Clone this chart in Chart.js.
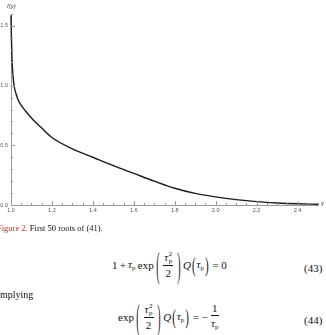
<!DOCTYPE html>
<html>
<head>
<meta charset="utf-8">
<script src="https://cdn.jsdelivr.net/npm/chart.js@4.4.1/dist/chart.umd.min.js"></script>
<style>
  html, body { margin: 0; padding: 0; background: #fff; }
  body { width: 326px; height: 335px; overflow: hidden; position: relative; font-family: 'Liberation Serif', serif; color: #111; }
  #plot { position: absolute; left: 0; top: 0; width: 326px; height: 218px; }
  .lbl { position: absolute; font: italic 6px 'Liberation Sans', sans-serif; color: #444; white-space: nowrap; }
  .txt { position: absolute; white-space: nowrap; font-size: 10px; line-height: 10px; }
  .caption { font-size: 8.5px; }
  .caption b { font-weight: normal; color: #b8322a; }
  .eqn { font-size: 11px; line-height: 11px; }
  .eq { position: absolute; display: flex; align-items: center; font-size: 11px; line-height: 11px; white-space: nowrap; }
  .eq i { font-style: italic; }
  .sym { display: inline-block; position: relative; }
  .sym sub { font-size: 7px; position: relative; top: 2px; vertical-align: baseline; }
  .ss { display: inline-flex; flex-direction: column; font-size: 7px; line-height: 6.5px; margin-left: 0.5px; }
  .frac { display: inline-flex; flex-direction: column; align-items: center; margin: 0 1px; }
  .frac .num { padding: 0 1px 1px; border-bottom: 0.8px solid #111; display: flex; align-items: center; }
  .frac .den { padding-top: 2px; }
  .bp { display: inline-block; transform: scale(0.9, 3.2); margin: 0 2.5px; }
  .mp { display: inline-block; transform: scaleY(1.9); margin: 0 1px; }
</style>
</head>
<body>
<div id="plot"><canvas id="chart_roots" width="326" height="218"></canvas></div>
<span class="lbl" style="left:7px; top:3px;">f(y)</span>
<span class="lbl" style="left:321px; top:200px;">y</span>

<div class="txt caption" style="left:-3px; top:223px;"><b>Figure 2.</b> First 50 roots of (41).</div>

<div class="eq" style="left:112px; top:248px; height:34px;">
  <span>1&thinsp;+&thinsp;</span>
  <span class="sym"><i>τ</i><sub>p</sub></span>
  <span>&thinsp;exp</span>
  <span class="bp">(</span>
  <span class="frac"><span class="num"><i>τ</i><span class="ss"><span>2</span><span>p</span></span></span><span class="den">2</span></span>
  <span class="bp">)</span>
  <i>Q</i><span class="mp">(</span><span class="sym"><i>τ</i><sub>p</sub></span><span class="mp">)</span>
  <span>&nbsp;=&nbsp;0</span>
</div>
<div class="txt eqn" style="left:304px; top:263px;">(43)</div>

<div class="txt" style="left:-3.3px; top:290px;">Implying</div>

<div class="eq" style="left:118px; top:300px; height:34px;">
  <span>exp</span>
  <span class="bp">(</span>
  <span class="frac"><span class="num"><i>τ</i><span class="ss"><span>2</span><span>p</span></span></span><span class="den">2</span></span>
  <span class="bp">)</span>
  <i>Q</i><span class="mp">(</span><span class="sym"><i>τ</i><sub>p</sub></span><span class="mp">)</span>
  <span>&nbsp;=&nbsp;−&thinsp;</span>
  <span class="frac"><span class="num">1</span><span class="den"><span class="sym"><i>τ</i><sub>p</sub></span></span></span>
</div>
<div class="txt eqn" style="left:304px; top:315px;">(44)</div>

<script>
// first 50 roots
var rootX = [1.0, 1.002, 1.005, 1.01, 1.015, 1.025, 1.035, 1.05, 1.07, 1.11, 1.15, 1.2, 1.3, 1.4, 1.5, 1.6, 1.7, 1.8, 1.9, 2.0, 2.1, 2.2, 2.3, 2.4, 2.5]
var fValues = [1.59, 1.40, 1.21, 1.08, 1.0, 0.93, 0.88, 0.835, 0.79, 0.71, 0.645, 0.565, 0.47, 0.40, 0.33, 0.265, 0.20, 0.14, 0.097, 0.068, 0.045, 0.028, 0.017, 0.01, 0.006]
var xTicks = [1.0, 1.2, 1.4, 1.6, 1.8, 2.0, 2.2, 2.4]
var yTicks = [0.0, 0.5, 1.0, 1.5]

var axisGray = '#9a9a9a'

// mathematica-style inward ticks (major + minor)
var innerTicks = {
    id: 'innerTicks',
    afterDraw: function(chart) {
        var c = chart.ctx, xs = chart.scales.x, ys = chart.scales.y
        c.save()
        c.strokeStyle = axisGray
        c.lineWidth = 1
        c.beginPath()
        for (var i = 0; i <= 30; i++) {
            var v = 1.0 + i * 0.05
            var px = Math.round(xs.getPixelForValue(v)) + 0.5
            var len = (i % 4 === 0) ? 4 : 2
            c.moveTo(px, ys.bottom)
            c.lineTo(px, ys.bottom - len)
        }
        for (var j = 0; j <= 16; j++) {
            var py = Math.round(ys.getPixelForValue(j * 0.1)) + 0.5
            var l2 = (j % 5 === 0) ? 4 : 2
            c.moveTo(xs.left, py)
            c.lineTo(xs.left + l2, py)
        }
        c.stroke()
        c.restore()
    }
}

var ctx = document.getElementById('chart_roots')
var chartRoots = new Chart(ctx, {
    type: 'line',
    data: {
        datasets: [{
            data: rootX.map((x, i) => ({x: x, y: fValues[i]})),
            borderColor: '#1b1b1b',
            borderWidth: 1.4,
            pointRadius: 0,
            fill: false,
            cubicInterpolationMode: 'monotone',
            clip: false
        }]
    },
    options: {
        responsive: false,
        devicePixelRatio: 1,
        animation: false,
        layout: { padding: { top: 14, right: 8, left: 0, bottom: 0 } },
        plugins: { legend: { display: false }, tooltip: { enabled: false } },
        scales: {
            x: {
                type: 'linear',
                min: 1.0,
                max: 2.5,
                afterBuildTicks: function(scale) { scale.ticks = xTicks.map(v => ({value: v})) },
                afterFit: function(scale) { scale.height = 13 },
                grid: { display: false, drawTicks: false },
                border: { display: true, color: axisGray, width: 1 },
                ticks: {
                    padding: 2,
                    maxRotation: 0,
                    autoSkip: false,
                    color: '#555',
                    font: { family: 'Liberation Sans', size: 5.5 },
                    callback: function(value) { return value.toFixed(1) }
                }
            },
            y: {
                type: 'linear',
                min: 0,
                max: 1.6,
                afterBuildTicks: function(scale) { scale.ticks = yTicks.map(v => ({value: v})) },
                afterFit: function(scale) { scale.width = 11 },
                grid: { display: false, drawTicks: false },
                border: { display: true, color: axisGray, width: 1 },
                ticks: {
                    padding: 3,
                    autoSkip: false,
                    color: '#555',
                    font: { family: 'Liberation Sans', size: 5.5 },
                    callback: function(value) { return value.toFixed(1) }
                }
            }
        }
    },
    plugins: [innerTicks]
})
</script>
</body>
</html>
